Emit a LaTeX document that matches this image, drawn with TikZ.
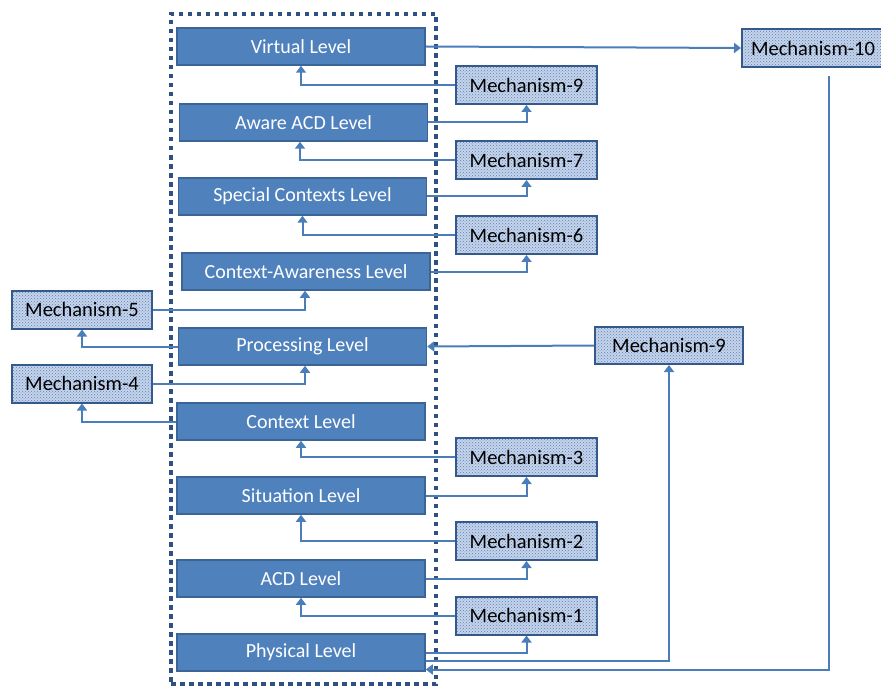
\documentclass[tikz,border=0pt]{standalone}
\usepackage{fontspec}
\setmainfont{Carlito}
\usetikzlibrary{arrows.meta,patterns}
\definecolor{lvfill}{HTML}{4F81BD}
\definecolor{lvborder}{HTML}{3B6497}
\definecolor{mborder}{HTML}{35598A}
\definecolor{mfill}{HTML}{C6D4EA}
\definecolor{mdots}{HTML}{5A82BC}
\definecolor{connc}{HTML}{4A7EBB}
\definecolor{framec}{HTML}{2F5082}
\begin{document}
\begin{tikzpicture}[x=1pt,y=-1pt,
  level/.style={draw=lvborder, line width=1.5pt, fill=lvfill, text=white,
    minimum width=248pt, minimum height=37pt, inner sep=0pt,
    font=\fontsize{20}{22}\selectfont},
  mech/.style={draw=mborder, line width=2pt, preaction={fill=mfill},
    pattern=crosshatch dots, pattern color=mdots,
    minimum width=141pt, minimum height=38pt, inner sep=0pt,
    text=black, font=\fontsize{20.5}{22}\selectfont},
  conn/.style={draw=connc, line width=2pt, -{Triangle[width=10pt,length=7pt]}},
  framebox/.style={draw=framec, line width=4.5pt, dash pattern=on 4.5pt off 4.5pt,
    minimum width=265pt, minimum height=670pt, inner sep=0pt}]
\useasboundingbox (0,0) rectangle (881,687);
\node[framebox] (frame) at (303.5,349) {};
% levels
\node[level] (vl) at (301,46.5) {Virtual Level};
\node[level] (aw) at (303.5,122.5) {Aware ACD Level};
\node[level] (sc) at (302.5,196.5) {Special Contexts Level};
\node[level] (ca) at (306,271.5) {Context-Awareness Level};
\node[level] (pl) at (302.5,346.5) {Processing Level};
\node[level] (cl) at (301,421.5) {Context Level};
\node[level] (sl) at (301,495.5) {Situation Level};
\node[level] (al) at (301,578.5) {ACD Level};
\node[level] (ph) at (301,652.5) {Physical Level};
% mechanisms
\node[mech, minimum width=142pt] (m10) at (813,48) {Mechanism-10};
\node[mech] (m9a) at (526.5,85) {Mechanism-9};
\node[mech] (m7) at (526.5,160) {Mechanism-7};
\node[mech] (m6) at (526.5,235) {Mechanism-6};
\node[mech, minimum width=140pt] (m5) at (82,309.5) {Mechanism-5};
\node[mech, minimum width=140pt] (m4) at (82,383.5) {Mechanism-4};
\node[mech, minimum width=148pt, minimum height=37pt] (m9b) at (669,345.5) {Mechanism-9};
\node[mech] (m3) at (526.5,457) {Mechanism-3};
\node[mech] (m2) at (526.5,541) {Mechanism-2};
\node[mech] (m1) at (526.5,615.5) {Mechanism-1};
\coordinate (m10out) at (829,76);
% connectors
\draw[conn] (vl.east) -- (m10.west);
\draw[conn] (m9a.west) -| (vl.south);
\draw[conn] (aw.east) -| (m9a.south);
\draw[conn] (m7.west) -| ([xshift=-3.5pt]aw.south);
\draw[conn] (sc.east) -| (m7.south);
\draw[conn] (m6.west) -| (sc.south);
\draw[conn] (ca.east) -| (m6.south);
\draw[conn] (m5.east) -| ([xshift=-1pt]ca.south);
\draw[conn] (pl.west) -| (m5.south);
\draw[conn] (m4.east) -| ([xshift=2.5pt]pl.south);
\draw[conn] (cl.west) -| (m4.south);
\draw[conn] (m9b.west) -- (pl.east);
\draw[conn] (m3.west) -| (cl.south);
\draw[conn] (sl.east) -| (m3.south);
\draw[conn] (m2.west) -| (sl.south);
\draw[conn] (al.east) -| (m2.south);
\draw[conn] (m1.west) -| (al.south);
\draw[conn] (ph.east) -| (m1.south);
\draw[conn] ([yshift=-8.5pt]ph.east) -| (m9b.south);
\draw[conn] (m10out) |- ([yshift=-17pt]ph.east);
\end{tikzpicture}
\end{document}
